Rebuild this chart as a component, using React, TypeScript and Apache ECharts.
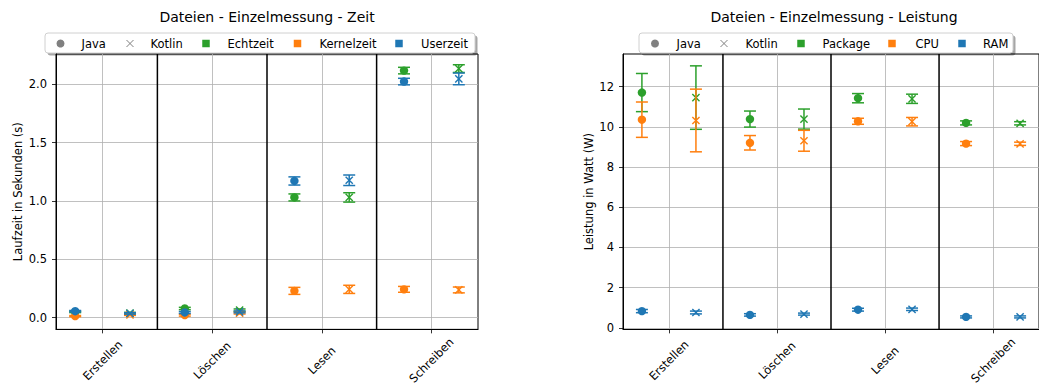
import React, { useEffect, useRef } from 'react';
import * as echarts from 'echarts';

// Shared categories along the x axis
const categories = ['Erstellen', 'Löschen', 'Lesen', 'Schreiben'];
const groupBoundaries = [0.5, 1.5, 2.5];
const languages = ['Java', 'Kotlin'];

// Laufzeit in Sekunden
const timeMetrics = ['Echtzeit', 'Kernelzeit', 'Userzeit'];
const javaEchtzeit = [0.05, 0.079, 1.03, 2.116];
const javaEchtzeitErr = [0.006, 0.01, 0.03, 0.028];
const javaKernelzeit = [0.014, 0.022, 0.23, 0.243];
const javaKernelzeitErr = [0.005, 0.008, 0.03, 0.025];
const javaUserzeit = [0.056, 0.045, 1.171, 2.022];
const javaUserzeitErr = [0.006, 0.008, 0.035, 0.028];
const kotlinEchtzeit = [0.04, 0.065, 1.03, 2.133];
const kotlinEchtzeitErr = [0.006, 0.01, 0.04, 0.033];
const kotlinKernelzeit = [0.025, 0.04, 0.243, 0.238];
const kotlinKernelzeitErr = [0.005, 0.008, 0.035, 0.025];
const kotlinUserzeit = [0.037, 0.05, 1.177, 2.045];
const kotlinUserzeitErr = [0.006, 0.008, 0.045, 0.05];
const timeTicks = [0, 0.5, 1, 1.5, 2];

// Leistung in Watt
const powerMetrics = ['Package', 'CPU', 'RAM'];
const javaPackage = [11.71, 10.39, 11.43, 10.2];
const javaPackageErr = [0.95, 0.4, 0.23, 0.1];
const javaCpu = [10.36, 9.21, 10.28, 9.17];
const javaCpuErr = [0.88, 0.36, 0.15, 0.1];
const javaRam = [0.83, 0.64, 0.9, 0.54];
const javaRamErr = [0.08, 0.06, 0.07, 0.05];
const kotlinPackage = [11.46, 10.39, 11.4, 10.18];
const kotlinPackageErr = [1.58, 0.5, 0.23, 0.08];
const kotlinCpu = [10.32, 9.31, 10.26, 9.16];
const kotlinCpuErr = [1.56, 0.52, 0.21, 0.08];
const kotlinRam = [0.76, 0.68, 0.92, 0.54];
const kotlinRamErr = [0.07, 0.05, 0.06, 0.05];
const powerTicks = [0, 2, 4, 6, 8, 10, 12];

const GREEN = '#2ca02c';
const ORANGE = '#ff7f0e';
const BLUE = '#1f77b4';
const GRAY = '#808080';
const metricColors = [GREEN, ORANGE, BLUE];
const FONT = 'DejaVu Sans';

const DODGE = 0.25;
const X_MIN = -0.425;
const X_MAX = 3.425;

function errorSeries(
  name: string,
  color: string,
  javaV: number[],
  javaE: number[],
  kotlinV: number[],
  kotlinE: number[],
  axisIdx: number
) {
  const data: number[][] = [];
  categories.forEach((_, i) => {
    data.push([i - DODGE, javaV[i], javaE[i], 0]);
    data.push([i + DODGE, kotlinV[i], kotlinE[i], 1]);
  });
  return {
    type: 'custom',
    name,
    xAxisIndex: axisIdx,
    yAxisIndex: axisIdx,
    data,
    encode: { x: 0, y: 1 },
    z: 4,
    renderItem: (_params: any, api: any) => {
      const x = api.value(0);
      const y = api.value(1);
      const e = api.value(2);
      const kind = api.value(3);
      const c = api.coord([x, y]);
      const lo = api.coord([x, y - e]);
      const hi = api.coord([x, y + e]);
      const cap = 6;
      const ls = { stroke: color, lineWidth: 1.5 };
      const children: any[] = [
        { type: 'line', shape: { x1: c[0], y1: lo[1], x2: c[0], y2: hi[1] }, style: ls },
        { type: 'line', shape: { x1: c[0] - cap, y1: lo[1], x2: c[0] + cap, y2: lo[1] }, style: ls },
        { type: 'line', shape: { x1: c[0] - cap, y1: hi[1], x2: c[0] + cap, y2: hi[1] }, style: ls },
      ];
      if (kind === 0) {
        children.push({ type: 'circle', shape: { cx: c[0], cy: c[1], r: 4.2 }, style: { fill: color } });
      } else {
        const s = 3.6;
        const xs = { stroke: color, lineWidth: 1.4 };
        children.push({ type: 'line', shape: { x1: c[0] - s, y1: c[1] - s, x2: c[0] + s, y2: c[1] + s }, style: xs });
        children.push({ type: 'line', shape: { x1: c[0] - s, y1: c[1] + s, x2: c[0] + s, y2: c[1] - s }, style: xs });
      }
      return { type: 'group', children };
    },
  };
}

function separatorSeries(axisIdx: number) {
  return {
    type: 'custom',
    name: 'group-separator',
    xAxisIndex: axisIdx,
    yAxisIndex: axisIdx,
    data: groupBoundaries.map((b) => [b, 0]),
    encode: { x: 0, y: 1 },
    z: 3,
    silent: true,
    renderItem: (params: any, api: any) => {
      const p = api.coord([api.value(0), 0]);
      const cs = params.coordSys;
      return {
        type: 'line',
        shape: { x1: p[0], y1: cs.y, x2: p[0], y2: cs.y + cs.height },
        style: { stroke: '#000', lineWidth: 1.5 },
      };
    },
  };
}

function legendGraphic(
  box: [number, number],
  iconX: number[],
  textX: number[],
  labels: string[]
) {
  const top = 33;
  const h = 20;
  const cy = top + h / 2 + 0.5;
  const children: any[] = [
    {
      type: 'rect',
      shape: { x: box[0] + 2.5, y: top + 2.5, width: box[1] - box[0], height: h, r: 3 },
      style: { fill: 'rgba(0,0,0,0.35)' },
    },
    {
      type: 'rect',
      shape: { x: box[0], y: top, width: box[1] - box[0], height: h, r: 3 },
      style: { fill: '#fff', stroke: '#d0d0d0', lineWidth: 1 },
    },
  ];
  labels.forEach((label, i) => {
    const ix = iconX[i];
    if (i === 0) {
      children.push({ type: 'circle', shape: { cx: ix, cy, r: 4 }, style: { fill: GRAY } });
    } else if (i === 1) {
      const s = 3.5;
      children.push({ type: 'line', shape: { x1: ix - s, y1: cy - s, x2: ix + s, y2: cy + s }, style: { stroke: GRAY, lineWidth: 1 } });
      children.push({ type: 'line', shape: { x1: ix - s, y1: cy + s, x2: ix + s, y2: cy - s }, style: { stroke: GRAY, lineWidth: 1 } });
    } else {
      children.push({
        type: 'rect',
        shape: { x: ix - 3.75, y: cy - 3.75, width: 7.5, height: 7.5 },
        style: { fill: metricColors[i - 2] },
      });
    }
    children.push({
      type: 'text',
      x: textX[i],
      y: cy,
      style: {
        text: label,
        font: `11.5px "${FONT}"`,
        fill: '#000',
        textVerticalAlign: 'middle',
        verticalAlign: 'middle',
        align: 'left',
      },
    });
  });
  return { type: 'group', children, z: 100 };
}

function xAxisDef(gridIndex: number) {
  return {
    type: 'value',
    gridIndex,
    min: X_MIN,
    max: X_MAX,
    axisLine: { show: true, onZero: false, lineStyle: { color: '#000', width: 1 } },
    axisTick: { show: true, length: 4, customValues: [0, 1, 2, 3], lineStyle: { color: '#000', width: 0.8 } },
    axisLabel: {
      show: true,
      customValues: [0, 1, 2, 3],
      formatter: (v: number) => categories[Math.round(v)] ?? '',
      rotate: 45,
      align: 'center',
      verticalAlign: 'middle',
      margin: 31,
      color: '#000',
      fontFamily: FONT,
      fontSize: 11.5,
    },
    splitLine: { show: true, lineStyle: { color: '#b0b0b0', width: 0.8 } },
  };
}

function yAxisDef(gridIndex: number, min: number, max: number, ticks: number[], digits: number, name: string, nameGap: number) {
  return {
    type: 'value',
    gridIndex,
    min,
    max,
    name,
    nameLocation: 'middle',
    nameGap,
    nameRotate: 90,
    nameTextStyle: { color: '#000', fontFamily: FONT, fontSize: 11.5 },
    axisLine: { show: true, onZero: false, lineStyle: { color: '#000', width: 1 } },
    axisTick: { show: true, length: 4, customValues: ticks, lineStyle: { color: '#000', width: 0.8 } },
    axisLabel: {
      show: true,
      customValues: ticks,
      formatter: (v: number) => v.toFixed(digits),
      margin: 9,
      color: '#000',
      fontFamily: FONT,
      fontSize: 11.5,
    },
    splitLine: { show: true, lineStyle: { color: '#b0b0b0', width: 0.8 } },
  };
}

export default function App() {
  const ref = useRef<HTMLDivElement>(null);

  useEffect(() => {
    if (!ref.current) return;
    const chart = echarts.init(ref.current, undefined, { renderer: 'svg' });

    const timeSeries = [
      errorSeries('Echtzeit', GREEN, javaEchtzeit, javaEchtzeitErr, kotlinEchtzeit, kotlinEchtzeitErr, 0),
      errorSeries('Kernelzeit', ORANGE, javaKernelzeit, javaKernelzeitErr, kotlinKernelzeit, kotlinKernelzeitErr, 0),
      errorSeries('Userzeit', BLUE, javaUserzeit, javaUserzeitErr, kotlinUserzeit, kotlinUserzeitErr, 0),
    ];
    const powerSeries = [
      errorSeries('Package', GREEN, javaPackage, javaPackageErr, kotlinPackage, kotlinPackageErr, 1),
      errorSeries('CPU', ORANGE, javaCpu, javaCpuErr, kotlinCpu, kotlinCpuErr, 1),
      errorSeries('RAM', BLUE, javaRam, javaRamErr, kotlinRam, kotlinRamErr, 1),
    ];

    chart.setOption({
      animation: false,
      backgroundColor: '#fff',
      textStyle: { fontFamily: FONT },
      title: [
        {
          text: 'Dateien - Einzelmessung - Zeit',
          left: 267,
          top: 10,
          padding: 0,
          textAlign: 'center',
          textStyle: { fontFamily: FONT, fontSize: 14, fontWeight: 'normal', color: '#000' },
        },
        {
          text: 'Dateien - Einzelmessung - Leistung',
          left: 834,
          top: 10,
          padding: 0,
          textAlign: 'center',
          textStyle: { fontFamily: FONT, fontSize: 14, fontWeight: 'normal', color: '#000' },
        },
      ],
      grid: [
        { left: 56, top: 54, width: 422, height: 277, show: true, borderColor: '#000', borderWidth: 1, backgroundColor: 'transparent' },
        { left: 623, top: 54, width: 423, height: 277, show: true, borderColor: '#000', borderWidth: 1, backgroundColor: 'transparent' },
      ],
      xAxis: [xAxisDef(0), xAxisDef(1)],
      yAxis: [
        yAxisDef(0, -0.0996, 2.258, timeTicks, 1, 'Laufzeit in Sekunden (s)', 32),
        yAxisDef(1, -0.08, 13.63, powerTicks, 0, 'Leistung in Watt (W)', 28),
      ],
      graphic: [
        legendGraphic([45, 475], [60.5, 130, 206, 297.5, 399], [81.5, 150.5, 227.5, 319.5, 421], [...languages, ...timeMetrics]),
        legendGraphic([639, 1013], [655, 724, 801, 892, 962], [676.5, 745.5, 822.5, 915.5, 983], [...languages, ...powerMetrics]),
      ],
      series: [separatorSeries(0), separatorSeries(1), ...timeSeries, ...powerSeries],
    });

    return () => chart.dispose();
  }, []);

  return (
    <div
      ref={ref}
      style={{ position: 'absolute', left: 0, top: 0, width: 1039, height: 387, background: '#fff' }}
    />
  );
}
